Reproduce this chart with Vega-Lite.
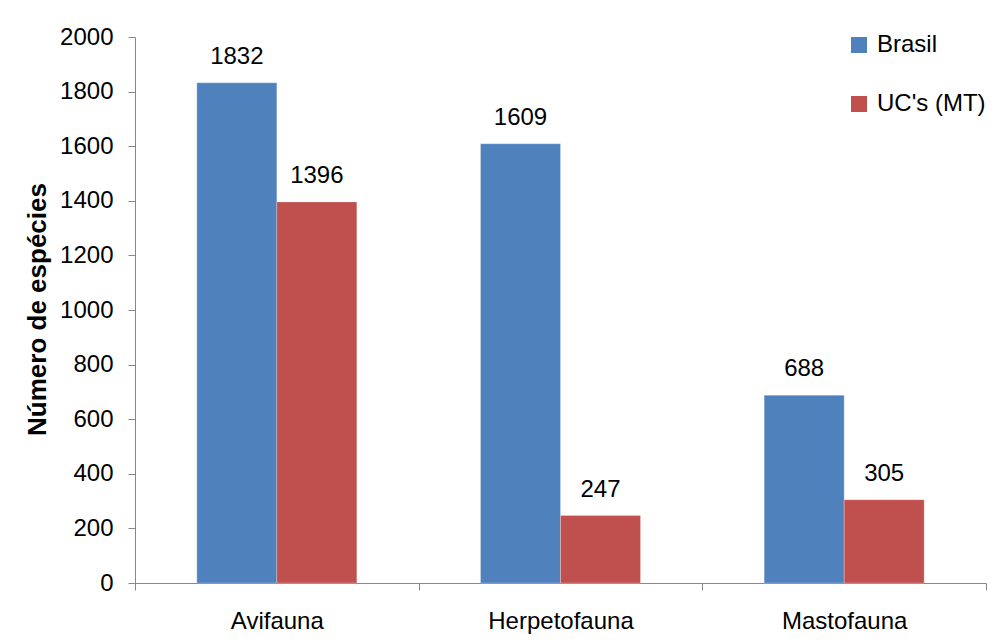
{
  "$schema": "https://vega.github.io/schema/vega-lite/v6.json",
  "autosize": "none",
  "width": 851,
  "height": 546,
  "padding": {"left": 135, "top": 37, "right": 11, "bottom": 61},
  "background": "white",
  "config": {
    "font": "Liberation Sans",
    "view": {"stroke": null},
    "axis": {"labelFont": "Liberation Sans", "labelFontSize": 24, "labelColor": "black", "domainColor": "#888888", "tickColor": "#888888", "tickSize": 7, "grid": false},
    "legend": {"labelFont": "Liberation Sans", "labelFontSize": 24, "labelColor": "black"}
  },
  "data": {
    "values": [
      {"grupo": "Avifauna", "serie": "Brasil", "valor": 1832},
      {"grupo": "Avifauna", "serie": "UC's (MT)", "valor": 1396},
      {"grupo": "Herpetofauna", "serie": "Brasil", "valor": 1609},
      {"grupo": "Herpetofauna", "serie": "UC's (MT)", "valor": 247},
      {"grupo": "Mastofauna", "serie": "Brasil", "valor": 688},
      {"grupo": "Mastofauna", "serie": "UC's (MT)", "valor": 305}
    ]
  },
  "encoding": {
    "x": {
      "field": "grupo", "type": "nominal", "sort": null,
      "scale": {"paddingInner": 0, "paddingOuter": 0},
      "axis": {"title": null, "labelAngle": 0, "tickBand": "extent", "labelPadding": 19}
    },
    "xOffset": {
      "field": "serie", "type": "nominal", "sort": null,
      "scale": {"paddingInner": 0, "paddingOuter": 0.773}
    },
    "y": {
      "field": "valor", "type": "quantitative",
      "scale": {"domain": [0, 2000], "nice": false},
      "axis": {
        "title": "Número de espécies",
        "format": "d",
        "values": [0, 200, 400, 600, 800, 1000, 1200, 1400, 1600, 1800, 2000],
        "labelPadding": 15,
        "titleFont": "Liberation Sans", "titleFontSize": 26, "titleFontWeight": "bold", "titleColor": "black",
        "titleAngle": -90, "titleX": -98, "titleY": 272, "titleAlign": "center", "titleBaseline": "middle"
      }
    }
  },
  "layer": [
    {
      "mark": {"type": "bar", "stroke": "white", "strokeWidth": 0.5, "strokeOpacity": 0.5},
      "encoding": {
        "color": {
          "field": "serie", "type": "nominal", "sort": null,
          "scale": {"domain": ["Brasil", "UC's (MT)"], "range": ["#4F81BD", "#C0504D"]},
          "legend": {
            "title": null, "orient": "none", "legendX": 712, "legendY": -4,
            "symbolType": "square", "symbolSize": 256, "symbolStrokeWidth": 0,
            "labelOffset": 6, "rowPadding": 35
          }
        }
      }
    },
    {
      "mark": {"type": "text", "baseline": "alphabetic", "dy": -19, "fontSize": 24, "color": "black", "font": "Liberation Sans"},
      "encoding": {"text": {"field": "valor", "type": "quantitative"}}
    }
  ]
}
